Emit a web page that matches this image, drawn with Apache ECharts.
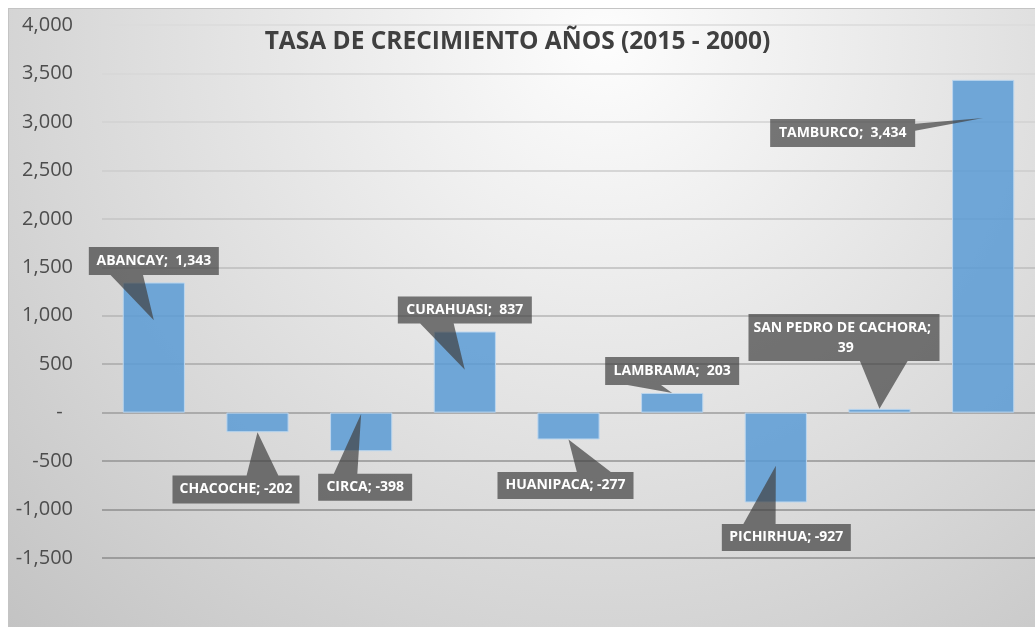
<!DOCTYPE html>
<html>
<head>
    <meta charset="utf-8">
    <title>Tasa de crecimiento</title>
    <style>
        html, body { margin: 0; padding: 0; background: #ffffff; }
        #bg {
            position: absolute; left: 8px; top: 8px; width: 1027px; height: 619px;
            border-top: 1px solid #c4c4c4; border-left: 1px solid #c4c4c4;
            background: radial-gradient(ellipse farthest-corner at 58% 5%, #fdfdfd 0%, #e9e9e9 35%, #d5d5d5 70%, #c3c3c3 100%);
        }
        #main { position: absolute; left: 0; top: 0; width: 1035px; height: 627px; }
    </style>
</head>
<body>
<div id="bg"></div>
<div id="main"></div>
<script src="https://cdn.jsdelivr.net/npm/echarts@6/dist/echarts.min.js"></script>
<script type="text/javascript">
    // data
    var districts = ['ABANCAY', 'CHACOCHE', 'CIRCA', 'CURAHUASI', 'HUANIPACA', 'LAMBRAMA', 'PICHIRHUA', 'SAN PEDRO DE CACHORA', 'TAMBURCO']
    var growth = [1343, -202, -398, 837, -277, 203, -927, 39, 3434]
    var yTicks = { min: -1500, max: 4000, interval: 500 }

    // callout layout (box centre offset from bar end, box size, where the pointer lands on the bar)
    var boxDx = [0, -21.5, 4, 0, -3, 0, 10.5, -35.5, -140.5]
    var boxDy = [-21.5, 57.3, 36, -21.5, 46, -22, 35, -71.3, 53.2]
    var boxW = [130, 127, 94, 134, 136, 134, 129, 191, 145]
    var boxH = [28, 28, 27, 27, 27, 28, 27, 47, 28]
    var tipFrac = [0.71, 1, 0.03, 0.53, 1, 1, 0.59, 1, 0.885]

    // grid line colours, from the bottom line up
    var gridColors = ['#8c8c8c', '#8e8e8e', '#939393', '#9c9c9c', '#a9a9a9', '#b4b4b4',
        '#bdbdbd', '#c5c5c5', '#cccccc', '#d2d2d2', '#d7d7d7', '#dbdbdb']

    function fmt(v) {
        return Math.abs(v).toLocaleString('en-US')
    }

    function labelText(i) {
        var v = growth[i]
        return districts[i] + '; ' + (v < 0 ? '-' + fmt(v) : ' ' + fmt(v))
    }

    // rectangle with a wedge, like an Excel data callout
    function calloutPoints(x0, y0, w, h, tx, ty) {
        var x1 = x0 + w, y1 = y0 + h
        var dx = tx - (x0 + w / 2), dy = ty - (y0 + h / 2)
        var side
        if (Math.abs(dx) / w > Math.abs(dy) / h) side = dx > 0 ? 'right' : 'left'
        else side = dy > 0 ? 'bottom' : 'top'
        var ha = dx <= 0.5 ? [x0 + w / 6, x0 + 5 * w / 12] : [x0 + 7 * w / 12, x0 + 5 * w / 6]
        var va = dy <= 0.5 ? [y0 + h / 6, y0 + 5 * h / 12] : [y0 + 7 * h / 12, y0 + 5 * h / 6]
        var pts = [[x0, y0]]
        if (side == 'top') pts.push([ha[0], y0], [tx, ty], [ha[1], y0])
        pts.push([x1, y0])
        if (side == 'right') pts.push([x1, va[0]], [tx, ty], [x1, va[1]])
        pts.push([x1, y1])
        if (side == 'bottom') pts.push([ha[1], y1], [tx, ty], [ha[0], y1])
        pts.push([x0, y1])
        if (side == 'left') pts.push([x0, va[1]], [tx, ty], [x0, va[0]])
        return pts
    }

    var myChart = echarts.init(document.getElementById('main'))

    var option = {
        backgroundColor: 'transparent',
        animation: false,
        title: {
            text: 'TASA DE CRECIMIENTO AÑOS (2015 - 2000)',
            left: 'center',
            top: 25,
            textStyle: {
                fontFamily: 'Open Sans',
                fontWeight: 'bold',
                fontSize: 24.5,
                color: '#404040'
            }
        },
        grid: {
            left: 102,
            right: 0,
            top: 25,
            bottom: 69
        },
        xAxis: {
            type: 'category',
            data: districts,
            axisLine: { show: false },
            axisTick: { show: false },
            axisLabel: { show: false },
            splitLine: { show: false }
        },
        yAxis: {
            type: 'value',
            min: yTicks.min,
            max: yTicks.max,
            interval: yTicks.interval,
            axisLine: { show: false },
            axisTick: { show: false },
            axisLabel: {
                margin: 29,
                fontFamily: 'Open Sans',
                fontSize: 20,
                color: '#4d4d4d',
                formatter: function (v) {
                    if (v == 0) return '-  '
                    return (v < 0 ? '-' : '') + fmt(v)
                }
            },
            splitLine: {
                lineStyle: { color: gridColors, width: 1.5 }
            }
        },
        series: [
            {
                type: 'bar',
                data: growth,
                barWidth: '60%',
                z: 2,
                itemStyle: {
                    color: 'rgba(91,155,213,0.85)',
                    borderColor: '#bcd6ee',
                    borderWidth: 1
                }
            },
            {
                type: 'custom',
                z: 5,
                clip: false,
                data: growth.map(function (v, i) { return [i, v] }),
                encode: { x: 0, y: 1 },
                renderItem: function (params, api) {
                    var i = params.dataIndex
                    var v = api.value(1)
                    var end = api.coord([i, v])
                    var tip = api.coord([i, v * tipFrac[i]])
                    var w = boxW[i], h = boxH[i]
                    var cx = end[0] + boxDx[i], cy = end[1] + boxDy[i]
                    return {
                        type: 'group',
                        children: [
                            {
                                type: 'polygon',
                                shape: { points: calloutPoints(cx - w / 2, cy - h / 2, w, h, tip[0], tip[1]) },
                                style: { fill: 'rgba(64,64,64,0.7)' }
                            },
                            {
                                type: 'text',
                                x: cx,
                                y: cy,
                                style: {
                                    text: labelText(i),
                                    fill: '#ffffff',
                                    font: 'bold 14px "Open Sans"',
                                    align: 'center',
                                    verticalAlign: 'middle',
                                    lineHeight: 20,
                                    width: w - 8,
                                    overflow: 'break'
                                }
                            }
                        ]
                    }
                }
            }
        ]
    }

    myChart.setOption(option)
</script>
</body>
</html>
